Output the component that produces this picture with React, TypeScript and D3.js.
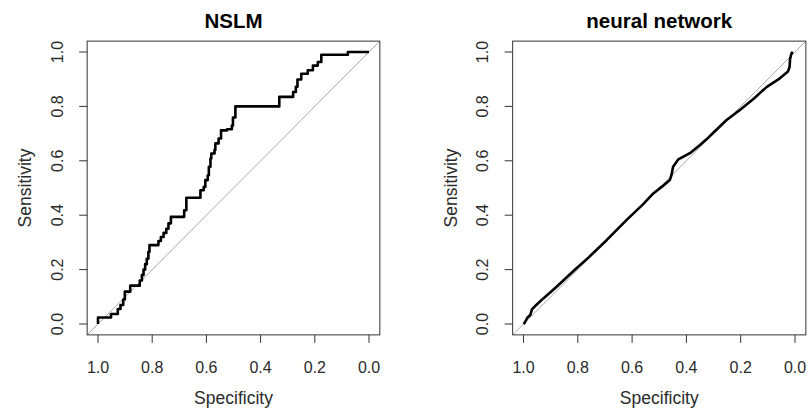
import React from "react";
import * as d3 from "d3";

const ticks = [1.0, 0.8, 0.6, 0.4, 0.2, 0.0];
const tickLabels = ["1.0", "0.8", "0.6", "0.4", "0.2", "0.0"];

const nslmSpec = [1.0, 1.0, 0.952, 0.952, 0.932, 0.927, 0.917, 0.907, 0.901, 0.883, 0.881, 0.85, 0.846, 0.838, 0.832, 0.826, 0.82, 0.814, 0.81, 0.78, 0.777, 0.768, 0.758, 0.748, 0.74, 0.731, 0.684, 0.682, 0.674, 0.626, 0.622, 0.61, 0.604, 0.595, 0.591, 0.585, 0.582, 0.57, 0.567, 0.555, 0.546, 0.524, 0.506, 0.502, 0.493, 0.333, 0.331, 0.288, 0.28, 0.27, 0.264, 0.25, 0.226, 0.207, 0.189, 0.176, 0.081, 0.078, 0.0];
const nslmSens = [0, 0.024, 0.024, 0.037, 0.037, 0.055, 0.07, 0.09, 0.119, 0.119, 0.141, 0.141, 0.16, 0.18, 0.2, 0.22, 0.24, 0.265, 0.29, 0.29, 0.305, 0.32, 0.335, 0.35, 0.37, 0.394, 0.394, 0.418, 0.464, 0.464, 0.492, 0.504, 0.529, 0.547, 0.578, 0.608, 0.627, 0.64, 0.664, 0.682, 0.712, 0.716, 0.73, 0.759, 0.8, 0.8, 0.835, 0.835, 0.853, 0.872, 0.899, 0.92, 0.933, 0.95, 0.963, 0.99, 0.99, 1.0, 1.0];

const nnSpec = [1.0, 0.996, 0.99, 0.985, 0.975, 0.969, 0.957, 0.926, 0.88, 0.816, 0.76, 0.693, 0.62, 0.56, 0.522, 0.49, 0.461, 0.455, 0.449, 0.43, 0.387, 0.35, 0.326, 0.3, 0.252, 0.203, 0.15, 0.105, 0.06, 0.026, 0.02, 0.018, 0.013, 0.008];
const nnSens = [0, 0.004, 0.015, 0.024, 0.033, 0.054, 0.066, 0.095, 0.135, 0.195, 0.245, 0.309, 0.383, 0.44, 0.48, 0.505, 0.529, 0.548, 0.578, 0.605, 0.628, 0.658, 0.679, 0.704, 0.75, 0.787, 0.83, 0.871, 0.9, 0.928, 0.945, 0.975, 0.995, 1.0];

const FONT = "'Liberation Sans', Arial, Helvetica, sans-serif";
const TXT = "#2a2a2a";

type PanelProps = {
  title: string;
  spec: number[];
  sens: number[];
  x0: number;
  x1: number;
  stepped: boolean;
  id: string;
};

function Panel({ title, spec, sens, x0, x1, stepped, id }: PanelProps) {
  const y0 = 324;
  const y1 = 52;
  const x = d3.scaleLinear().domain([1, 0]).range([x0, x1]);
  const y = d3.scaleLinear().domain([0, 1]).range([y0, y1]);
  const bl = x(1.04), br = x(-0.04), bt = y(1.04), bb = y(-0.04);
  const pts: [number, number][] = spec.map((s, i) => [s, sens[i]]);
  const line = d3
    .line<[number, number]>()
    .x((d) => x(d[0]))
    .y((d) => y(d[1]))
    .curve(stepped ? d3.curveStepAfter : d3.curveLinear);
  const cx = (bl + br) / 2;
  return (
    <g>
      <defs>
        <clipPath id={id}>
          <rect x={bl} y={bt} width={br - bl} height={bb - bt} />
        </clipPath>
      </defs>
      <line
        x1={x(1.04)} y1={y(-0.04)} x2={x(-0.04)} y2={y(1.04)}
        stroke="#a9a9a9" strokeWidth={1} clipPath={`url(#${id})`}
      />
      <path d={line(pts) || ""} fill="none" stroke="#000" strokeWidth={2.6} strokeLinejoin="round" />
      <rect x={bl} y={bt} width={br - bl} height={bb - bt} fill="none" stroke="#333" strokeWidth={1} />
      {ticks.map((t, i) => (
        <g key={"x" + i}>
          <line x1={x(t)} x2={x(t)} y1={bb} y2={bb + 8} stroke="#333" />
          <text x={x(t)} y={367} textAnchor="middle" dominantBaseline="central" fontSize={16} fontFamily={FONT} fill={TXT}>
            {tickLabels[i]}
          </text>
        </g>
      ))}
      {ticks.map((t, i) => (
        <g key={"y" + i}>
          <line x1={bl - 8} x2={bl} y1={y(1 - t)} y2={y(1 - t)} stroke="#333" />
          <text
            transform={`translate(${bl - 30},${y(1 - t)}) rotate(-90)`}
            textAnchor="middle" dominantBaseline="central" fontSize={16} fontFamily={FONT} fill={TXT}
          >
            {tickLabels[5 - i]}
          </text>
        </g>
      ))}
      <text x={cx} y={398} textAnchor="middle" dominantBaseline="central" fontSize={17.5} fontFamily={FONT} fill={TXT}>
        Specificity
      </text>
      <text
        transform={`translate(${bl - 62},${(bt + bb) / 2}) rotate(-90)`}
        textAnchor="middle" dominantBaseline="central" fontSize={17.5} fontFamily={FONT} fill={TXT}
      >
        Sensitivity
      </text>
      <text x={cx} y={28} textAnchor="middle" fontSize={20.5} fontWeight="bold" fontFamily={FONT} fill="#000">
        {title}
      </text>
    </g>
  );
}

export default function App() {
  return (
    <svg
      width={808}
      height={412}
      style={{ position: "absolute", left: 0, top: 0, background: "#fff" }}
    >
      <rect width={808} height={412} fill="#fff" />
      <Panel title="NSLM" spec={nslmSpec} sens={nslmSens} x0={98} x1={369} stepped={true} id="clipL" />
      <Panel title="neural network" spec={nnSpec} sens={nnSens} x0={523.5} x1={795} stepped={false} id="clipR" />
    </svg>
  );
}
